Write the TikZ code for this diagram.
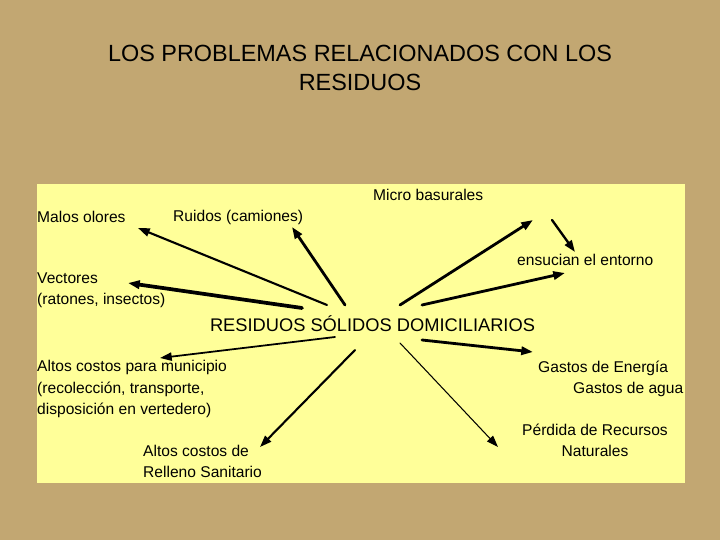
\documentclass[tikz,border=0pt]{standalone}
\usepackage{fontspec}
\setmainfont{Liberation Sans}
\usetikzlibrary{arrows.meta}

\definecolor{burlap}{RGB}{194,167,114}
\definecolor{notepad}{RGB}{255,255,153}

\begin{document}
\begin{tikzpicture}[x=0.03cm, y=-0.03cm,
    lbl/.style={font=\fontsize{13.3}{18}\selectfont, inner sep=0pt, align=left, anchor=west},
    arr/.style={-{Triangle[length=10pt,width=7pt]}, line cap=round}]
      % \draw[help lines, step=20] (0,0) grid (720,540);

      \fill[burlap] (0, 0) rectangle (720, 540);
      \fill[notepad] (37, 184) rectangle (685, 483);

      \node[font=\fontsize{20}{24.7}\selectfont, align=center] (title) at (360, 67.5)
        {LOS PROBLEMAS RELACIONADOS CON LOS\\RESIDUOS};

      \node[font=\fontsize{15.6}{18}\selectfont, inner sep=0pt] (res) at (372.5, 324)
        {RESIDUOS SÓLIDOS DOMICILIARIOS};

      \node[lbl] (malos) at (37, 217) {Malos olores};
      \node[lbl] (ruidos) at (173, 217) {Ruidos (camiones)};
      \node[lbl] (micro) at (373, 195) {Micro basurales};
      \node[lbl] (ensucian) at (517, 260) {ensucian el entorno};
      \node[lbl] (vectores) at (37, 290.5) {Vectores\\(ratones, insectos)};
      \node[lbl] (muni) at (37, 389)
        {Altos costos para municipio\\(recolección, transporte,\\disposición en vertedero)};
      \node[lbl] (relleno) at (143, 461.5) {Altos costos de\\Relleno Sanitario};
      \node[lbl] (energia) at (538, 368) {Gastos de Energía};
      \node[lbl] (agua) at (573, 389) {Gastos de agua};
      \node[lbl, anchor=center, align=center] (perdida) at (595, 440.5)
        {Pérdida de Recursos\\Naturales};

      % upper arrows
      \draw[arr, line width=1.8pt] ([shift={(-45.5,-19)}]res.center) -- ([shift={(101,11)}]malos.west);
      \draw[arr, line width=2.4pt] ([shift={(-27.5,-19)}]res.center) -- ([shift={(119,10)}]ruidos.west);
      \draw[arr, line width=3.2pt] ([shift={(-70.5,-16)}]res.center) -- ([shift={(91,-7.5)}]vectores.west);
      \draw[arr, line width=2.4pt] ([shift={(27.5,-19)}]res.center) -- ([shift={(160,25)}]micro.west);
      \draw[arr, line width=2pt] ([shift={(179,25)}]micro.west) -- ([shift={(58,-8)}]ensucian.west);
      \draw[arr, line width=2.4pt] ([shift={(49.5,-19)}]res.center) -- ([shift={(48,13)}]ensucian.west);

      % lower arrows
      \draw[arr, line width=1.5pt] ([shift={(-37.5,13)}]res.center) -- ([shift={(123,-31)}]muni.west);
      \draw[arr, line width=1.8pt] ([shift={(-17.5,26)}]res.center) -- ([shift={(117,-14.5)}]relleno.west);
      \draw[arr, line width=2.4pt] ([shift={(49.5,16)}]res.center) -- ([shift={(-5,-16)}]energia.west);
      \draw[arr, line width=0.9pt] ([shift={(27.5,19)}]res.center) -- ([shift={(-97,6.5)}]perdida.center);

\end{tikzpicture}
\end{document}
